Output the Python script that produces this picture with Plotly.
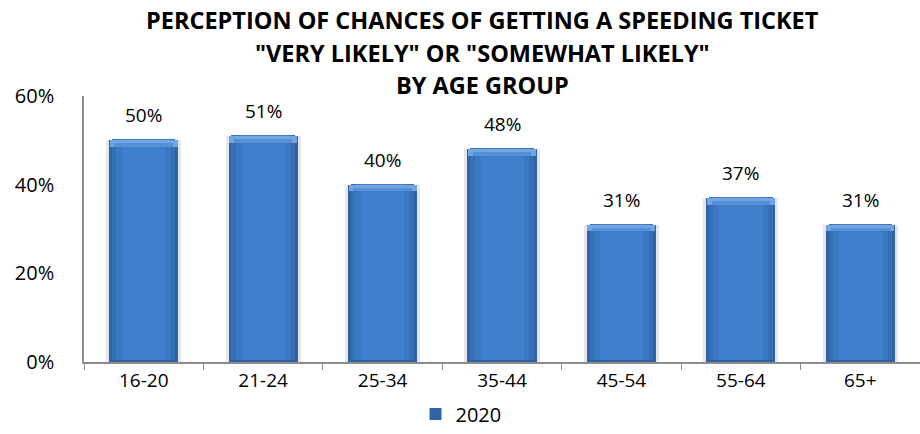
import plotly.graph_objects as go

# Share of drivers who rate the chance of a speeding ticket as likely
age_groups = ["16-20", "21-24", "25-34", "35-44", "45-54", "55-64", "65+"]
pct_2020 = [50, 51, 40, 48, 31, 37, 31]
y_ticks = [0, 20, 40, 60]
title_lines = [
    "PERCEPTION OF CHANCES OF GETTING A SPEEDING TICKET",
    "\"VERY LIKELY\" OR \"SOMEWHAT LIKELY\"",
    "BY AGE GROUP",
]
series_name = "2020"

FONT = "Open Sans"
BAR_W = 0.58
W, H = 920, 434
M_L, M_R, M_T, M_B = 84, 0, 96, 72

fig = go.Figure()

# soft shadow behind each column
fig.add_trace(go.Bar(x=age_groups, y=pct_2020, width=BAR_W + 0.05,
                     marker=dict(color="#e6e6e6", line=dict(width=0)),
                     showlegend=False, hoverinfo="skip"))

# main column (dark edge) carries the legend entry
fig.add_trace(go.Bar(x=age_groups, y=pct_2020, width=BAR_W, name=series_name,
                     marker=dict(color="#2f63a4", line=dict(width=0))))

# lighter inner bands give the rounded, shaded look
for w, col in [(0.53, "#356fb5"), (0.46, "#3a78c1"), (0.36, "#3f7fcb")]:
    fig.add_trace(go.Bar(x=age_groups, y=[v - 0.3 for v in pct_2020], width=w,
                         base=[0.5] * len(pct_2020),
                         marker=dict(color=col, line=dict(width=0)),
                         showlegend=False, hoverinfo="skip"))

# bevelled top edge
fig.add_trace(go.Bar(x=age_groups, y=[1.5] * len(pct_2020),
                     base=[v - 1.5 for v in pct_2020], width=BAR_W - 0.01,
                     marker=dict(color="#73a5e2", line=dict(width=0)),
                     showlegend=False, hoverinfo="skip"))
fig.add_trace(go.Bar(x=age_groups, y=[0.8] * len(pct_2020),
                     base=[v - 1.5 for v in pct_2020], width=BAR_W - 0.09,
                     marker=dict(color="#5690d6", line=dict(width=0)),
                     showlegend=False, hoverinfo="skip"))

# value labels above the columns
for g, v in zip(age_groups, pct_2020):
    fig.add_annotation(x=g, y=v, text=f"{v}%", showarrow=False, yshift=25,
                       font=dict(family=FONT, size=19, color="#000000"))

# three-line bold heading, positioned in pixels from the top edge
plot_h = H - M_T - M_B
plot_w = W - M_L - M_R
for i, line in enumerate(title_lines):
    y_px = 20 + 32.5 * i
    fig.add_annotation(xref="paper", yref="paper", x=(482 - M_L) / plot_w,
                       y=(H - M_B - y_px) / plot_h, showarrow=False,
                       text=f"<b>{line}</b>",
                       font=dict(family=FONT, size=23.5, color="#000000"),
                       yanchor="middle", xanchor="center")

fig.update_layout(
    width=W, height=H,
    margin=dict(l=M_L, r=M_R, t=M_T, b=M_B, autoexpand=False),
    paper_bgcolor="white", plot_bgcolor="white",
    barmode="overlay", bargap=0,
    font=dict(family=FONT, color="#000000"),
    showlegend=True,
    legend=dict(orientation="h", x=(461 - M_L) / plot_w, xanchor="center",
                y=-(414 - (H - M_B)) / plot_h, yanchor="middle",
                font=dict(family=FONT, size=20), itemwidth=30,
                bgcolor="rgba(0,0,0,0)"),
    xaxis=dict(showline=True, linecolor="#8c8c8c", linewidth=1.5,
               ticks="outside", tickson="boundaries", ticklen=6,
               tickcolor="#8c8c8c", tickfont=dict(family=FONT, size=19),
               showgrid=False, range=[-0.5, 6.5]),
    yaxis=dict(range=[0, 60], tickmode="array", tickvals=y_ticks,
               ticktext=[f"{t}%" for t in y_ticks],
               showline=True, linecolor="#8c8c8c", linewidth=1.5,
               showgrid=False, zeroline=False, ticks="",
               tickfont=dict(family=FONT, size=20), ticklabelstandoff=24),
)

fig.write_html("out.html")
